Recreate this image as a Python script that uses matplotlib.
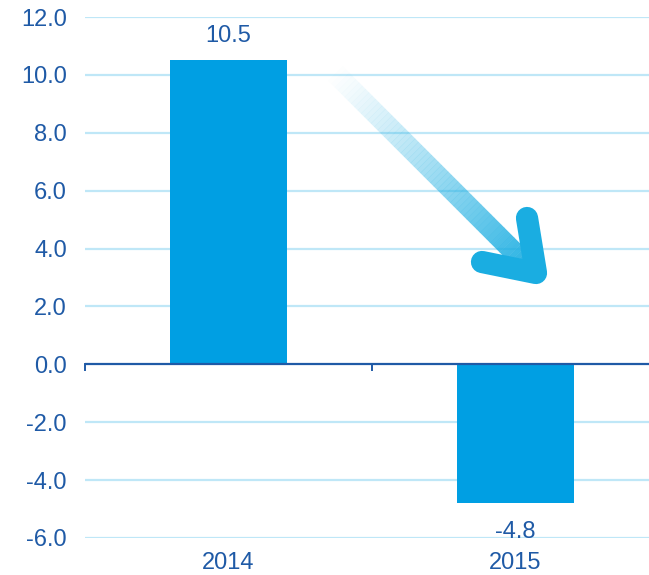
import matplotlib
matplotlib.use("Agg")
import matplotlib.pyplot as plt
import numpy as np

years = ["2014", "2015"]
values = [10.5, -4.8]
yticks = [-6.0, -4.0, -2.0, 0.0, 2.0, 4.0, 6.0, 8.0, 10.0, 12.0]

BAR_COLOR = "#009fe3"
TEXT_COLOR = "#1f5aa6"
GRID_COLOR = "#bfe7f7"
ARROW_COLOR = "#1aade1"

plt.rcParams["font.family"] = ["Liberation Sans", "DejaVu Sans"]

fig = plt.figure(figsize=(6.49, 5.75), dpi=100)
ax = fig.add_axes([85 / 649, 1 - 538 / 575, 564 / 649, 521 / 575])

x = np.arange(len(years))
ax.bar(x, values, width=0.41, color=BAR_COLOR, zorder=3)

ax.set_ylim(yticks[0], yticks[-1])
ax.set_xlim(-0.5, 1.5 - 10 / 287)
ax.set_yticks(yticks)
ax.set_yticklabels([f"{v:.1f}" for v in yticks])
ax.tick_params(axis="y", length=0, colors=TEXT_COLOR, labelsize=17, pad=13)
ax.set_xticks(x)
ax.set_xticklabels(years)
ax.tick_params(axis="x", length=0, colors=TEXT_COLOR, labelsize=17, pad=0)
for lab in ax.get_xticklabels():
    lab.set_transform(lab.get_transform() + matplotlib.transforms.ScaledTranslation(0, -0.14, fig.dpi_scale_trans))

for v in yticks:
    if v != 0:
        ax.axhline(v, color=GRID_COLOR, lw=1.6, zorder=1)
ax.axhline(0, color=TEXT_COLOR, lw=1.6, zorder=4)
for b in [-0.5, 0.5, 1.5]:
    ax.plot([b, b], [0, -0.2], color=TEXT_COLOR, lw=1.4, zorder=4, clip_on=False)

for s in ax.spines.values():
    s.set_visible(False)

# value labels
for xi, v in zip(x, values):
    off = 0.45 if v > 0 else -0.62
    ax.text(xi, v + off, f"{v:.1f}", ha="center", va="bottom" if v > 0 else "top",
            fontsize=17, color=TEXT_COLOR, zorder=5)

# decorative arrow (axes fraction coordinates), fading shaft
def px(xp, yp):
    return ((xp - 85) / 564, (538 - yp) / 521)

x0, y0 = px(332, 70)
x1, y1 = px(530, 268)
n = 60
for i in range(n):
    t0, t1 = i / n, (i + 1.05) / n
    ax.plot([x0 + (x1 - x0) * t0, x0 + (x1 - x0) * t1],
            [y0 + (y1 - y0) * t0, y0 + (y1 - y0) * t1],
            color=ARROW_COLOR, alpha=min(1, (i / n) ** 1.2 * 0.95), lw=15,
            solid_capstyle="butt", transform=ax.transAxes, zorder=6)

ax_, ay_ = px(527, 218)
tx, ty = px(536, 273)
bx, by = px(482, 262)
ax.plot([ax_, tx, bx], [ay_, ty, by], color=ARROW_COLOR, lw=16,
        solid_capstyle="round", solid_joinstyle="round",
        transform=ax.transAxes, zorder=7)

fig.savefig("out.png", dpi=100)
